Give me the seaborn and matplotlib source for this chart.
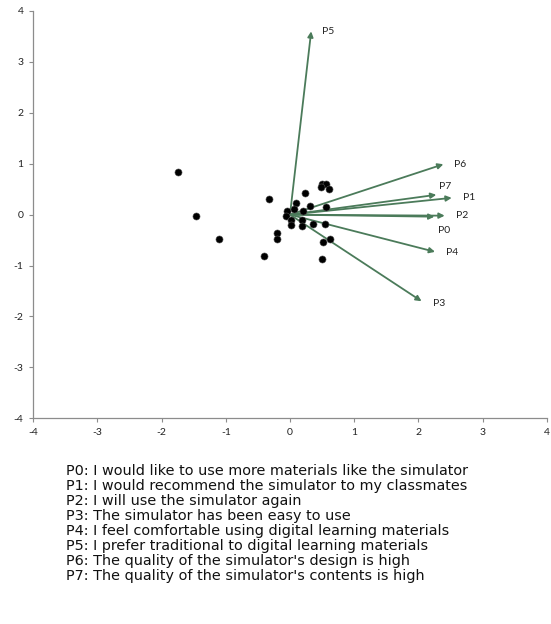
import numpy as np
import pandas as pd
import seaborn as sns
import matplotlib
matplotlib.use("Agg")
import matplotlib.pyplot as plt

# scores of the respondents (first two components)
score_x = [-1.74, -1.47, -1.10, -0.32, -0.21, -0.21, -0.41, 0.24, 0.50, 0.56,
           0.48, 0.61, 0.10, -0.05, 0.07, 0.21, 0.31, 0.56, -0.06, 0.01,
           0.02, 0.19, 0.19, 0.36, 0.54, 0.52, 0.62, 0.50]
score_y = [0.83, -0.02, -0.47, 0.30, -0.37, -0.47, -0.81, 0.42, 0.60, 0.60,
           0.54, 0.51, 0.23, 0.08, 0.11, 0.08, 0.17, 0.16, -0.02, -0.10,
           -0.20, -0.10, -0.22, -0.18, -0.18, -0.53, -0.48, -0.87]

# loadings of the questionnaire items
items = ["P0", "P1", "P2", "P3", "P4", "P5", "P6", "P7"]
load_x = [2.25, 2.52, 2.41, 2.05, 2.26, 0.33, 2.39, 2.28]
load_y = [-0.04, 0.33, -0.02, -1.70, -0.73, 3.60, 0.99, 0.39]

descriptions = [
    "I would like to use more materials like the simulator",
    "I would recommend the simulator to my classmates",
    "I will use the simulator again",
    "The simulator has been easy to use",
    "I feel comfortable using digital learning materials",
    "I prefer traditional to digital learning materials",
    "The quality of the simulator's design is high",
    "The quality of the simulator's contents is high",
]

ticks = [-4, -3, -2, -1, 0, 1, 2, 3, 4]

sns.set_style("white")
plt.rcParams["font.family"] = ["Lato", "DejaVu Sans"]
plt.rcParams["axes.unicode_minus"] = False

fig = plt.figure(figsize=(5.51, 6.24), dpi=100)
ax = fig.add_axes([0.0604, 0.3296, 0.9318, 0.6528])

scores = pd.DataFrame({"x": score_x, "y": score_y})
sns.scatterplot(data=scores, x="x", y="y", ax=ax, color="black", s=26,
                edgecolor="#555555", linewidth=0.4, zorder=3)

arrow_col = "#4B7B5A"
# label offsets in pixels from arrow tip (dx, dy; dy positive = up)
label_off = {"P0": (4, -14), "P7": (3, 8), "P6": (11, 0), "P1": (11, 0),
             "P2": (11, 0), "P4": (11, -1), "P3": (11, -2), "P5": (11, 0)}
for name, lx, ly in zip(items, load_x, load_y):
    ax.annotate("", xy=(lx, ly), xytext=(0, 0),
                arrowprops=dict(arrowstyle="-|>", color=arrow_col, lw=1.3,
                                mutation_scale=8, shrinkA=0, shrinkB=0),
                zorder=2)
    dx, dy = label_off[name]
    ax.annotate(name, xy=(lx, ly), xytext=(dx * 0.72, dy * 0.72),
                textcoords="offset points", ha="left", va="center",
                fontsize=7.5, color="#222222")

ax.set_xlim(-4, 4)
ax.set_ylim(-4, 4)
ax.set_xticks(ticks)
ax.set_yticks(ticks)
ax.set_xlabel("")
ax.set_ylabel("")
for side in ["top", "right"]:
    ax.spines[side].set_visible(False)
for side in ["left", "bottom"]:
    ax.spines[side].set_color("#8c8c8c")
    ax.spines[side].set_linewidth(0.9)
ax.tick_params(axis="both", which="both", direction="out", length=3,
               width=0.8, color="#8c8c8c", labelsize=7.5, labelcolor="#222222",
               left=True, bottom=True, pad=4)

# item descriptions below the plot, one line every 15 px
for i, (p, d) in enumerate(zip(items, descriptions)):
    fig.text(66 / 551, 1 - (471 + 15 * i) / 624, f"{p}: {d}",
             ha="left", va="center", fontsize=10.4,
             family=["DejaVu Sans"], color="#111111")

fig.savefig("out.png", dpi=100)
